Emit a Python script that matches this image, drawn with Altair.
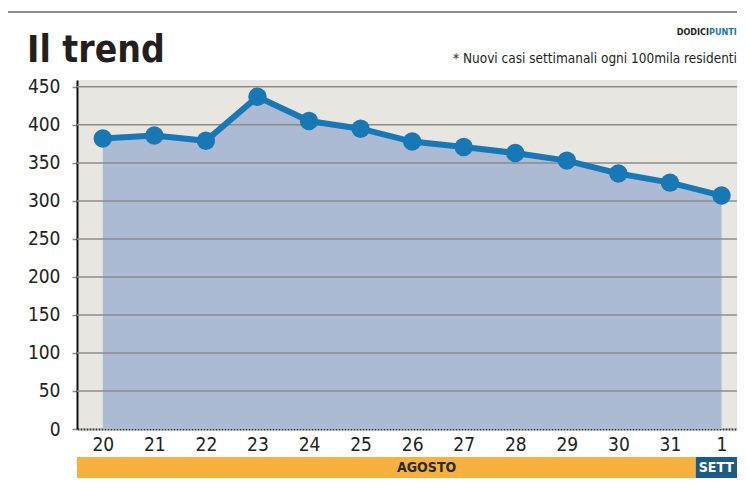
import altair as alt
import pandas as pd

# ---- data ----
days = ["20", "21", "22", "23", "24", "25", "26", "27", "28", "29", "30", "31", "1"]
cases = [382, 386, 379, 437, 405, 395, 378, 371, 363, 353, 336, 324, 307]
y_ticks = [0, 50, 100, 150, 200, 250, 300, 350, 400, 450]
months = ["AGOSTO", "SETT"]
month_start = [-0.5, 11.5]
month_end = [11.5, 12.3]
month_label_pos = [6.28, 11.9]

title_text = "Il trend"
subtitle_text = "* Nuovi casi settimanali ogni 100mila residenti"

FONT = "DejaVu Sans Condensed, Liberation Sans Narrow, Roboto Condensed, Roboto"
XDOM = [-0.5, 12.3]
YDOM = [0, 459]

df = pd.DataFrame({"idx": list(range(len(days))), "day": days, "cases": cases})
grid_df = pd.DataFrame({"g": [v for v in y_ticks if v > 0]})
band_df = pd.DataFrame({"month": months, "start": month_start, "end": month_end,
                        "pos": month_label_pos})

label_expr = "[" + ",".join(f"'{d}'" for d in days) + "][datum.value]"

xs = alt.Scale(domain=XDOM, nice=False, zero=False)
ys = alt.Scale(domain=YDOM, nice=False)

xaxis = alt.Axis(values=list(range(len(days))), labelExpr=label_expr, title=None,
                 grid=False, ticks=False, labelFont=FONT, labelFontSize=19,
                 labelColor="#222", labelPadding=6, domainColor="#333",
                 domainWidth=2, domainDash=[2, 1])
yaxis = alt.Axis(values=y_ticks, grid=False, tickColor="#8c8c8c", tickSize=5, title=None,
                 tickWidth=1.5, labelFont=FONT, labelFontSize=19, labelColor="#222",
                 labelPadding=12, domainColor="#111", domainWidth=2)

area = alt.Chart(df).mark_area(color="#adbad3", opacity=1).encode(
    x=alt.X("idx:Q", scale=xs, axis=xaxis),
    y=alt.Y("cases:Q", scale=ys, axis=yaxis),
)

grid = alt.Chart(grid_df).mark_rule(color="#8c8c8c", strokeWidth=1.5).encode(
    y=alt.Y("g:Q", scale=ys, axis=yaxis)
)

line = alt.Chart(df).mark_line(color="#1877b5", strokeWidth=6).encode(
    x=alt.X("idx:Q", scale=xs, axis=xaxis),
    y=alt.Y("cases:Q", scale=ys, axis=yaxis),
)
pts = alt.Chart(df).mark_circle(color="#1877b5", size=340, opacity=1).encode(
    x=alt.X("idx:Q", scale=xs, axis=xaxis),
    y=alt.Y("cases:Q", scale=ys, axis=yaxis),
)

bands = alt.Chart(band_df).mark_rect().encode(
    x=alt.X("start:Q", scale=xs, axis=xaxis),
    x2="end:Q",
    y=alt.value(377),
    y2=alt.value(398),
    color=alt.condition("datum.month == 'AGOSTO'", alt.value("#f8b03e"), alt.value("#1e5b82")),
)
band_text = alt.Chart(band_df).mark_text(font=FONT, fontSize=14, fontWeight="bold",
                                         baseline="middle").encode(
    x=alt.X("pos:Q", scale=xs, axis=xaxis),
    y=alt.value(388),
    text="month:N",
    color=alt.condition("datum.month == 'AGOSTO'", alt.value("#2a2a2a"), alt.value("#ffffff")),
)

title = alt.Chart(pd.DataFrame({"t": [title_text]})).mark_text(
    font=FONT, fontSize=37, fontWeight="bold", align="left", baseline="alphabetic",
    color="#231f1c").encode(x=alt.value(-50), y=alt.value(-18), text="t:N")
subtitle = alt.Chart(pd.DataFrame({"t": [subtitle_text]})).mark_text(
    font=FONT, fontSize=13.5, align="right", baseline="alphabetic",
    color="#231f1c").encode(x=alt.value(660), y=alt.value(-17), text="t:N")
brand1 = alt.Chart(pd.DataFrame({"t": ["DODICI"]})).mark_text(
    font=FONT, fontSize=9, fontWeight="bold", align="right", baseline="alphabetic",
    color="#231f1c").encode(x=alt.value(632), y=alt.value(-45), text="t:N")
brand2 = alt.Chart(pd.DataFrame({"t": ["PUNTI"]})).mark_text(
    font=FONT, fontSize=9, fontWeight="bold", align="left", baseline="alphabetic",
    color="#1877b5").encode(x=alt.value(632), y=alt.value(-45), text="t:N")

frame_left = alt.Chart(pd.DataFrame({"a": [0]})).mark_rule(color="#666", strokeWidth=1.5).encode(
    x=alt.value(-70), y=alt.value(-68), y2=alt.value(420))
frame_top = alt.Chart(pd.DataFrame({"a": [0]})).mark_rule(color="#666", strokeWidth=1.5).encode(
    x=alt.value(-70), x2=alt.value(700), y=alt.value(-68))

chart = alt.layer(
    area, grid, line, pts, bands, band_text, title, subtitle, brand1, brand2,
    frame_left, frame_top
).properties(
    width=660, height=349, autosize="none",
    padding={"left": 69, "top": 72, "right": 0, "bottom": 49},
    background="white",
).configure_view(fill="#e8e6e1", stroke=None)

chart.save("out.html", embed_options={"renderer": "svg", "actions": False})
